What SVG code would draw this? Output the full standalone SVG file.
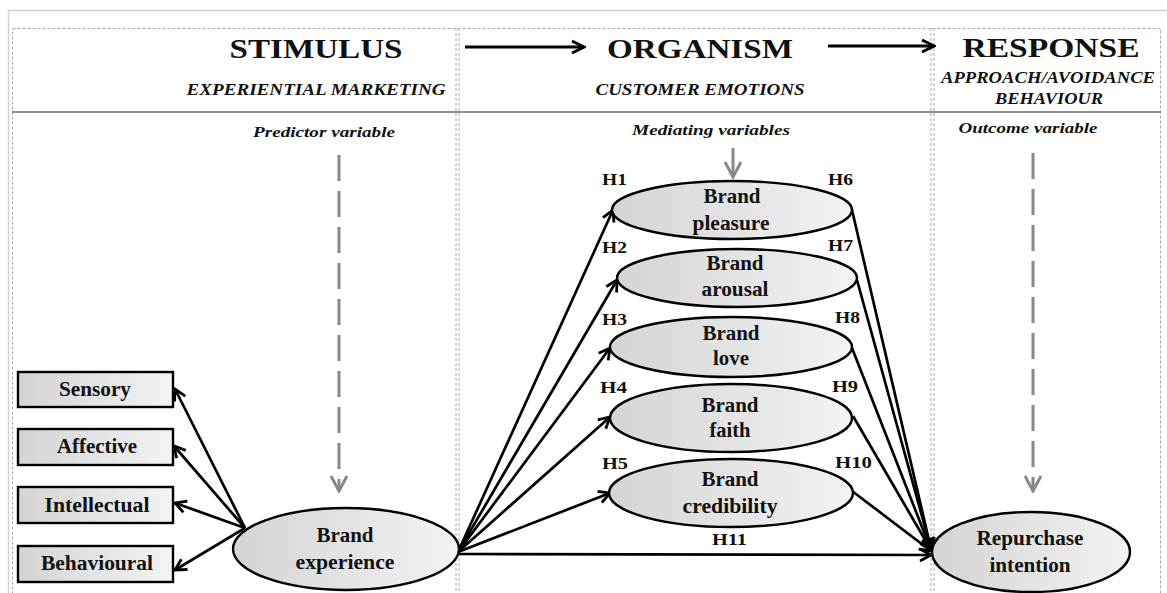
<svg xmlns="http://www.w3.org/2000/svg" width="1167" height="593" viewBox="0 0 1167 593">
  <defs>
    <linearGradient id="fillGrad" x1="0" y1="0" x2="1" y2="0">
      <stop offset="0" stop-color="#d4d4d4"/>
      <stop offset="1" stop-color="#f3f3f3"/>
    </linearGradient>
    <marker id="arrowBlack" viewBox="0 0 16 16" refX="14" refY="8" markerWidth="16" markerHeight="16" markerUnits="userSpaceOnUse" orient="auto">
      <path d="M3,2 L14,8 L3,14" fill="none" stroke="#000" stroke-width="2.8" stroke-linejoin="miter"/>
    </marker>
    <marker id="arrowHead" viewBox="0 0 16 16" refX="14" refY="8" markerWidth="16" markerHeight="16" markerUnits="userSpaceOnUse" orient="auto">
      <path d="M2,2 L14,8 L2,14" fill="none" stroke="#000" stroke-width="3" stroke-linejoin="miter"/>
    </marker>
    <marker id="arrowGray" viewBox="0 0 20 20" refX="18" refY="10" markerWidth="20" markerHeight="20" markerUnits="userSpaceOnUse" orient="auto">
      <path d="M3,2 L18,10 L3,18" fill="none" stroke="#888" stroke-width="3"/>
    </marker>
  </defs>
  <style>
    text { font-family: "Liberation Serif", "Times New Roman", serif; font-weight: bold; fill: #111; }
    .title { font-size: 28px; text-anchor: middle; }
    .sub { font-size: 16px; font-style: italic; text-anchor: middle; }
    .var { font-size: 15px; font-style: italic; text-anchor: middle; }
    .lbl { font-size: 20px; text-anchor: middle; }
    .hyp { font-size: 16px; }
    .node { fill: url(#fillGrad); stroke: #000; stroke-width: 2.4; }
    .frame { fill: none; stroke: #d2d2d2; stroke-width: 1.5; }
    .dots { fill: none; stroke: #a8a8a8; stroke-width: 1; stroke-dasharray: 3 2; }
    .rule { stroke: #6e6e6e; stroke-width: 1.5; }
    .edge { fill: none; stroke: #000; stroke-width: 2.7; marker-end: url(#arrowBlack); }
    .flow { fill: none; stroke: #000; stroke-width: 3; marker-end: url(#arrowHead); }
    .dash { fill: none; stroke: #888; stroke-width: 3; stroke-dasharray: 26 10; marker-end: url(#arrowGray); }
    .tick { fill: none; stroke: #888; stroke-width: 3; marker-end: url(#arrowGray); }
  </style>

  <rect width="1167" height="593" fill="#fff"/>

  <!-- page frame and panel grid -->
  <g id="layout">
    <rect class="frame" x="8.5" y="10.5" width="1170" height="600"/>
    <rect class="dots" x="12.5" y="28.5" width="1148" height="580"/>
    <line class="dots" x1="456" y1="28" x2="456" y2="593"/>
    <line class="dots" x1="459" y1="28" x2="459" y2="593"/>
    <line class="dots" x1="931" y1="28" x2="931" y2="593"/>
    <line class="dots" x1="934" y1="28" x2="934" y2="593"/>
    <line class="rule" x1="12" y1="112" x2="1161" y2="112"/>
  </g>

  <!-- column headings -->
  <g id="headings">
    <text class="title" x="316" y="58" textLength="173" lengthAdjust="spacingAndGlyphs">STIMULUS</text>
    <text class="sub" x="316" y="95" textLength="259" lengthAdjust="spacingAndGlyphs">EXPERIENTIAL MARKETING</text>
    <text class="var" x="324" y="137" textLength="142" lengthAdjust="spacingAndGlyphs">Predictor variable</text>

    <text class="title" x="700" y="58" textLength="186" lengthAdjust="spacingAndGlyphs">ORGANISM</text>
    <text class="sub" x="700" y="95" textLength="209" lengthAdjust="spacingAndGlyphs">CUSTOMER EMOTIONS</text>
    <text class="var" x="711" y="135" textLength="158" lengthAdjust="spacingAndGlyphs">Mediating variables</text>

    <text class="title" x="1051" y="57" textLength="177" lengthAdjust="spacingAndGlyphs">RESPONSE</text>
    <text class="sub" x="1048" y="83" textLength="214" lengthAdjust="spacingAndGlyphs">APPROACH/AVOIDANCE</text>
    <text class="sub" x="1049" y="104" textLength="108" lengthAdjust="spacingAndGlyphs">BEHAVIOUR</text>
    <text class="var" x="1028" y="133" textLength="139" lengthAdjust="spacingAndGlyphs">Outcome variable</text>
  </g>

  <!-- connectors -->
  <g id="connectors">
    <line class="flow" x1="465" y1="47" x2="584" y2="47"/>
    <line class="flow" x1="828" y1="46" x2="934" y2="46"/>

    <line class="dash" x1="339" y1="155" x2="339" y2="491"/>
    <line class="dash" x1="1033" y1="153" x2="1033" y2="491"/>
    <line class="tick" x1="733" y1="148" x2="733" y2="177"/>

    <!-- brand experience to its dimensions -->
    <line class="edge" x1="245" y1="528" x2="175" y2="389"/>
    <line class="edge" x1="245" y1="528" x2="174" y2="446"/>
    <line class="edge" x1="245" y1="528" x2="175" y2="503"/>
    <line class="edge" x1="245" y1="528" x2="175" y2="570"/>

    <!-- H1-H5 -->
    <line class="edge" x1="458" y1="552" x2="613" y2="210"/>
    <line class="edge" x1="458" y1="552" x2="617" y2="280"/>
    <line class="edge" x1="458" y1="552" x2="610" y2="348"/>
    <line class="edge" x1="458" y1="552" x2="610" y2="417"/>
    <line class="edge" x1="458" y1="552" x2="610" y2="493"/>

    <!-- H6-H10 -->
    <line class="edge" x1="852" y1="210" x2="931" y2="549"/>
    <line class="edge" x1="857" y1="280" x2="931" y2="549"/>
    <line class="edge" x1="852" y1="348" x2="931" y2="550"/>
    <line class="edge" x1="853" y1="416" x2="931" y2="550"/>
    <line class="edge" x1="852" y1="491" x2="931" y2="551"/>

    <!-- H11 -->
    <line class="edge" x1="458" y1="554" x2="931" y2="555"/>
  </g>

  <!-- hypothesis labels -->
  <g id="hypotheses">
    <text class="hyp" x="602" y="185" textLength="25" lengthAdjust="spacingAndGlyphs">H1</text>
    <text class="hyp" x="602" y="253" textLength="25" lengthAdjust="spacingAndGlyphs">H2</text>
    <text class="hyp" x="602" y="325" textLength="25" lengthAdjust="spacingAndGlyphs">H3</text>
    <text class="hyp" x="600" y="393" textLength="27" lengthAdjust="spacingAndGlyphs">H4</text>
    <text class="hyp" x="602" y="469" textLength="26" lengthAdjust="spacingAndGlyphs">H5</text>
    <text class="hyp" x="828" y="185" textLength="25" lengthAdjust="spacingAndGlyphs">H6</text>
    <text class="hyp" x="828" y="251" textLength="25" lengthAdjust="spacingAndGlyphs">H7</text>
    <text class="hyp" x="835" y="323" textLength="25" lengthAdjust="spacingAndGlyphs">H8</text>
    <text class="hyp" x="832" y="392" textLength="26" lengthAdjust="spacingAndGlyphs">H9</text>
    <text class="hyp" x="835" y="468" textLength="37" lengthAdjust="spacingAndGlyphs">H10</text>
    <text class="hyp" x="712" y="545" textLength="35" lengthAdjust="spacingAndGlyphs">H11</text>
  </g>

  <!-- experience dimensions -->
  <g id="sensory">
    <rect class="node" x="18" y="372" width="155" height="35"/>
    <text class="lbl" x="95" y="396" textLength="72" lengthAdjust="spacingAndGlyphs">Sensory</text>
  </g>
  <g id="affective">
    <rect class="node" x="18" y="429" width="155" height="36"/>
    <text class="lbl" x="97" y="453" textLength="80" lengthAdjust="spacingAndGlyphs">Affective</text>
  </g>
  <g id="intellectual">
    <rect class="node" x="18" y="487" width="155" height="36"/>
    <text class="lbl" x="97" y="512" textLength="105" lengthAdjust="spacingAndGlyphs">Intellectual</text>
  </g>
  <g id="behavioural">
    <rect class="node" x="18" y="546" width="155" height="36"/>
    <text class="lbl" x="97" y="570" textLength="112" lengthAdjust="spacingAndGlyphs">Behavioural</text>
  </g>

  <!-- predictor -->
  <g id="brand-experience">
    <ellipse class="node" cx="346" cy="549" rx="113" ry="41"/>
    <text class="lbl" x="345" y="542" textLength="57" lengthAdjust="spacingAndGlyphs">Brand</text>
    <text class="lbl" x="345" y="569" textLength="99" lengthAdjust="spacingAndGlyphs">experience</text>
  </g>

  <!-- mediators -->
  <g id="brand-pleasure">
    <ellipse class="node" cx="732" cy="210" rx="120" ry="29"/>
    <text class="lbl" x="732" y="203" textLength="57" lengthAdjust="spacingAndGlyphs">Brand</text>
    <text class="lbl" x="731" y="230" textLength="77" lengthAdjust="spacingAndGlyphs">pleasure</text>
  </g>
  <g id="brand-arousal">
    <ellipse class="node" cx="737" cy="278" rx="120" ry="29"/>
    <text class="lbl" x="735" y="270" textLength="57" lengthAdjust="spacingAndGlyphs">Brand</text>
    <text class="lbl" x="735" y="296" textLength="67" lengthAdjust="spacingAndGlyphs">arousal</text>
  </g>
  <g id="brand-love">
    <ellipse class="node" cx="731" cy="347" rx="121" ry="30"/>
    <text class="lbl" x="731" y="340" textLength="57" lengthAdjust="spacingAndGlyphs">Brand</text>
    <text class="lbl" x="731" y="365" textLength="36" lengthAdjust="spacingAndGlyphs">love</text>
  </g>
  <g id="brand-faith">
    <ellipse class="node" cx="731" cy="418" rx="121" ry="34"/>
    <text class="lbl" x="730" y="412" textLength="57" lengthAdjust="spacingAndGlyphs">Brand</text>
    <text class="lbl" x="730" y="437" textLength="41" lengthAdjust="spacingAndGlyphs">faith</text>
  </g>
  <g id="brand-credibility">
    <ellipse class="node" cx="731" cy="493" rx="122" ry="34"/>
    <text class="lbl" x="730" y="486" textLength="57" lengthAdjust="spacingAndGlyphs">Brand</text>
    <text class="lbl" x="730" y="513" textLength="95" lengthAdjust="spacingAndGlyphs">credibility</text>
  </g>

  <!-- outcome -->
  <g id="repurchase-intention">
    <ellipse class="node" cx="1031" cy="552" rx="99" ry="40"/>
    <text class="lbl" x="1030" y="545" textLength="107" lengthAdjust="spacingAndGlyphs">Repurchase</text>
    <text class="lbl" x="1030" y="572" textLength="81" lengthAdjust="spacingAndGlyphs">intention</text>
  </g>
</svg>
